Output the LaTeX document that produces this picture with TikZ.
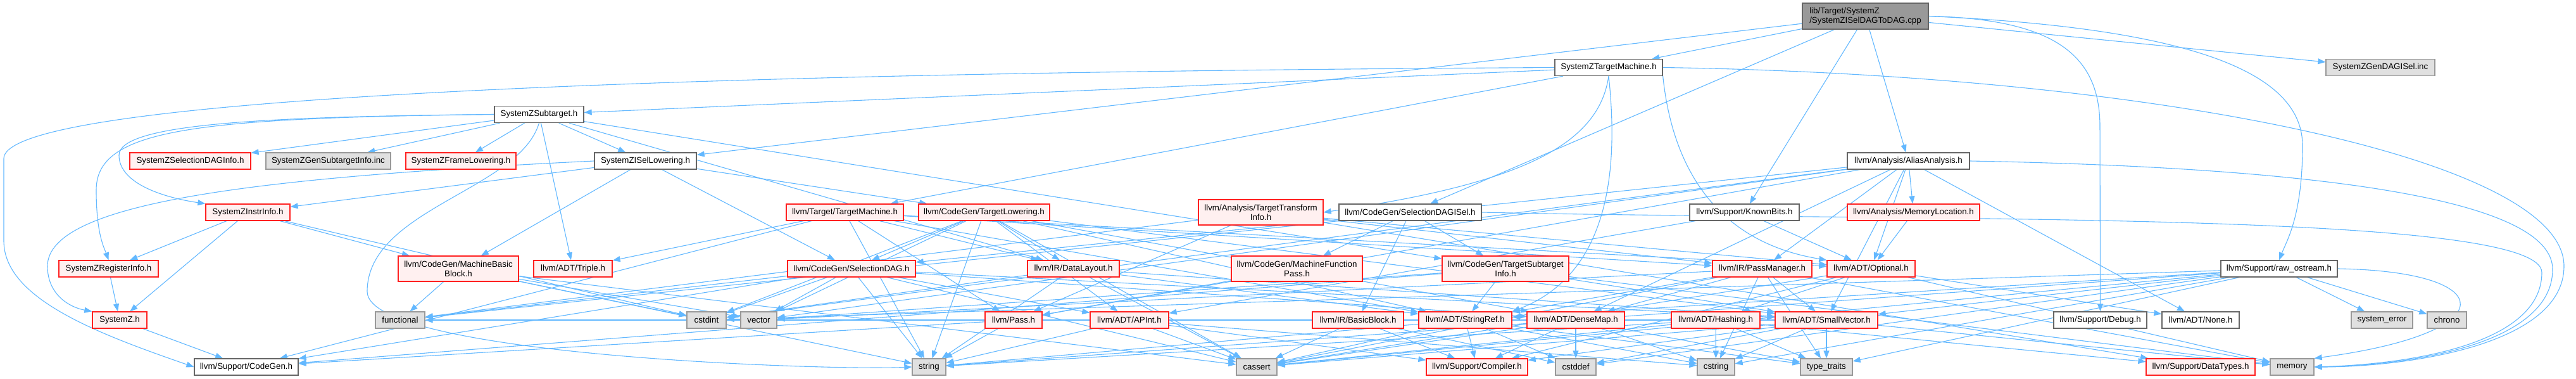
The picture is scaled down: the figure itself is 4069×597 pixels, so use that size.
\documentclass[tikz,border=0pt]{standalone}
\usepackage{fontspec}
\setmainfont{Liberation Sans}
\usetikzlibrary{arrows.meta}
\pgfdeclarelayer{background}
\pgfsetlayers{background,main}
\definecolor{edgec}{HTML}{63B8FF}
\definecolor{redfill}{HTML}{FFF0F0}
\definecolor{grayfill}{HTML}{E0E0E0}
\definecolor{grayline}{HTML}{999999}
\definecolor{darkline}{HTML}{666666}
\definecolor{redline}{HTML}{FF2020}
\definecolor{rootfill}{HTML}{999999}
\begin{document}
\begin{tikzpicture}[x=1pt,y=-1pt,font=\fontsize{13.35}{15.5}\selectfont,
  box/.style={draw, inner sep=0pt, minimum height=26pt, line width=1.3pt, align=center, text=black},
  rbox/.style={box, draw=redline, fill=redfill},
  wbox/.style={box, draw=darkline, fill=white},
  gbox/.style={box, draw=grayline, fill=grayfill},
  rootbox/.style={box, draw=darkline, fill=rootfill, align=left, minimum height=41pt},
  conn/.style={draw=edgec, line width=1.1pt, -{Triangle[length=12pt,width=9pt]}}]
\useasboundingbox (0,0) rectangle (4069,597);
% row 0
\node[rootbox, minimum width=199pt] (root) at (2946.5,25.5) {lib/Target/SystemZ\\/SystemZISelDAGToDAG.cpp};
% row 1
\node[wbox, minimum width=170pt] (ZTM) at (2541,106.5) {SystemZTargetMachine.h};
\node[gbox, minimum width=172pt] (GenDAG) at (3760,106.5) {SystemZGenDAGISel.inc};
% row 2
\node[wbox, minimum width=141pt] (Subtarget) at (851.5,180.5) {SystemZSubtarget.h};
% row 3
\node[rbox, minimum width=191pt] (SelDAGInfo) at (300.5,254) {SystemZSelectionDAGInfo.h};
\node[gbox, minimum width=197pt] (GenSubInfo) at (518.5,254) {SystemZGenSubtargetInfo.inc};
\node[rbox, minimum width=174pt] (FrameLow) at (728,254) {SystemZFrameLowering.h};
\node[wbox, minimum width=161pt] (ISelLow) at (1019.5,254) {SystemZISelLowering.h};
\node[wbox, minimum width=193pt] (AA) at (3014.5,254) {llvm/Analysis/AliasAnalysis.h};
% row 4
\node[rbox, minimum width=133pt] (InstrInfo) at (391.5,335) {SystemZInstrInfo.h};
\node[rbox, minimum width=185pt] (TM) at (1334.5,335) {llvm/Target/TargetMachine.h};
\node[rbox, minimum width=207pt] (TL) at (1554.5,335) {llvm/CodeGen/TargetLowering.h};
\node[rbox, minimum width=197pt, minimum height=40pt] (TTI) at (1991.5,335) {llvm/Analysis/TargetTransform\\Info.h};
\node[wbox, minimum width=225pt] (SDISel) at (2227.5,335) {llvm/CodeGen/SelectionDAGISel.h};
\node[wbox, minimum width=173pt] (KnownBits) at (2755.5,335) {llvm/Support/KnownBits.h};
\node[rbox, minimum width=209pt] (MemLoc) at (3022.5,335) {llvm/Analysis/MemoryLocation.h};
% row 5
\node[rbox, minimum width=157pt] (RegInfo) at (171.5,424) {SystemZRegisterInfo.h};
\node[rbox, minimum width=190pt, minimum height=40pt] (MBB) at (724,424) {llvm/CodeGen/MachineBasic\\Block.h};
\node[rbox, minimum width=124pt] (Triple) at (905,424) {llvm/ADT/Triple.h};
\node[rbox, minimum width=202pt] (SelDAG) at (1345,424) {llvm/CodeGen/SelectionDAG.h};
\node[rbox, minimum width=145pt] (DataLayout) at (1695.5,424) {llvm/IR/DataLayout.h};
\node[rbox, minimum width=207pt, minimum height=40pt] (MFP) at (2048.5,424) {llvm/CodeGen/MachineFunction\\Pass.h};
\node[rbox, minimum width=200pt, minimum height=40pt] (TSI) at (2378,424) {llvm/CodeGen/TargetSubtarget\\Info.h};
\node[rbox, minimum width=157pt] (PM) at (2783.5,424) {llvm/IR/PassManager.h};
\node[rbox, minimum width=139pt] (Optional) at (2955.5,424) {llvm/ADT/Optional.h};
\node[wbox, minimum width=184pt] (rawos) at (3600,424) {llvm/Support/raw\_ostream.h};
% row 6
\node[rbox, minimum width=86pt] (SystemZh) at (189,505) {SystemZ.h};
\node[gbox, minimum width=78pt] (functional) at (632,505) {functional};
\node[gbox, minimum width=62pt] (cstdint) at (1116,505) {cstdint};
\node[gbox, minimum width=57pt] (vector) at (1198.5,505) {vector};
\node[rbox, minimum width=90pt] (Pass) at (1601,505) {llvm/Pass.h};
\node[rbox, minimum width=124pt] (APInt) at (1784,505) {llvm/ADT/APInt.h};
\node[rbox, minimum width=144pt] (BB) at (2145,505) {llvm/IR/BasicBlock.h};
\node[rbox, minimum width=147pt] (StringRef) at (2314.5,505) {llvm/ADT/StringRef.h};
\node[rbox, minimum width=154pt] (DenseMap) at (2489,505) {llvm/ADT/DenseMap.h};
\node[rbox, minimum width=140pt] (Hashing) at (2710,505) {llvm/ADT/Hashing.h};
\node[rbox, minimum width=162pt] (SmallVector) at (2885,505) {llvm/ADT/SmallVector.h};
\node[wbox, minimum width=147pt] (Debug) at (3317.5,505) {llvm/Support/Debug.h};
\node[wbox, minimum width=122pt] (None) at (3476,505) {llvm/ADT/None.h};
\node[gbox, minimum width=97pt] (syserr) at (3762.5,505) {system\_error};
\node[gbox, minimum width=62pt] (chrono) at (3865,505) {chrono};
% row 7
\node[wbox, minimum width=164pt] (CodeGen) at (389,579) {llvm/Support/CodeGen.h};
\node[gbox, minimum width=53pt] (string) at (1467.5,579) {string};
\node[gbox, minimum width=64pt] (cassert) at (1985,579) {cassert};
\node[rbox, minimum width=160pt] (Compiler) at (2333,579) {llvm/Support/Compiler.h};
\node[gbox, minimum width=64pt] (cstddef) at (2489,579) {cstddef};
\node[gbox, minimum width=59pt] (cstring) at (2710.5,579) {cstring};
\node[gbox, minimum width=82pt] (typetraits) at (2885,579) {type\_traits};
\node[rbox, minimum width=172pt] (DataTypes) at (3476,579) {llvm/Support/DataTypes.h};
\node[gbox, minimum width=69pt] (memory) at (3620.5,579) {memory};

\begin{pgfonlayer}{background}
\foreach \a/\b in {root/ZTM, root/GenDAG, root/AA, root/ISelLow, root/SDISel, root/KnownBits,
  ZTM/Subtarget, ZTM/TM,
  Subtarget/SelDAGInfo, Subtarget/GenSubInfo, Subtarget/FrameLow, Subtarget/ISelLow, Subtarget/Triple, Subtarget/DataLayout, Subtarget/TSI,
  ISelLow/InstrInfo, ISelLow/MBB, ISelLow/SelDAG, ISelLow/TL,
  InstrInfo/RegInfo, InstrInfo/SystemZh, InstrInfo/cstdint, InstrInfo/MBB,
  RegInfo/SystemZh, SystemZh/CodeGen,
  MBB/functional, MBB/cstdint, MBB/vector, MBB/string, MBB/cassert,
  TM/Triple, TM/DataLayout, TM/PM, TM/Optional, TM/StringRef, TM/CodeGen, TM/string, TM/Pass,
  TL/SelDAG, TL/DataLayout, TL/APInt, TL/cstdint, TL/vector, TL/string, TL/cassert, TL/DenseMap, TL/SmallVector, TL/StringRef,
  SelDAG/functional, SelDAG/cstdint, SelDAG/vector, SelDAG/CodeGen, SelDAG/cassert, SelDAG/string, SelDAG/APInt, SelDAG/DenseMap, SelDAG/SmallVector,
  DataLayout/cstdint, DataLayout/string, DataLayout/cassert, DataLayout/SmallVector, DataLayout/StringRef,
  Pass/string, Pass/CodeGen,
  APInt/string, APInt/cassert, APInt/Compiler, APInt/cstring,
  TTI/Pass, TTI/functional, TTI/PM, TTI/Optional, TTI/DataTypes,
  MFP/Pass,
  SDISel/SelDAG, SDISel/MFP, SDISel/BB, SDISel/TSI,
  TSI/StringRef, TSI/vector, TSI/CodeGen, TSI/SmallVector, TSI/memory,
  BB/Compiler, BB/cassert, BB/cstddef,
  StringRef/string, StringRef/Compiler, StringRef/cstddef, StringRef/cstring, StringRef/typetraits, StringRef/cassert,
  DenseMap/Compiler, DenseMap/cstddef, DenseMap/cstring, DenseMap/typetraits, DenseMap/cassert,
  Hashing/cstring, Hashing/cassert, Hashing/string, Hashing/DataTypes, Hashing/typetraits,
  SmallVector/typetraits, SmallVector/cstring, SmallVector/Compiler, SmallVector/cstddef, SmallVector/cassert, SmallVector/functional, SmallVector/memory,
  PM/SmallVector, PM/StringRef, PM/DenseMap, PM/typetraits, PM/cassert, PM/cstring, PM/memory, PM/vector,
  Optional/Hashing, Optional/None, Optional/Compiler, Optional/cassert, Optional/memory,
  KnownBits/Optional, KnownBits/APInt, MemLoc/Optional,
  AA/PM, AA/MemLoc, AA/Optional, AA/SmallVector, AA/None, AA/DenseMap, AA/Pass, AA/cstdint, AA/functional, AA/vector,
  rawos/SmallVector, rawos/StringRef, rawos/cassert, rawos/cstddef, rawos/cstdint, rawos/cstring, rawos/string, rawos/syserr, rawos/chrono, rawos/typetraits}
  \draw[conn] (\a) -- (\b);
% curved connectors
\draw[conn] (root.east) .. controls (3250,30) and (3317,90) .. (3317,200) -- (Debug.north);
\draw[conn] (root.east) .. controls (3480,45) and (3637,120) .. (3637,230) .. controls (3637,340) and (3612,380) .. (rawos.north);
\draw[conn] (ZTM.west) .. controls (1500,112) and (8,135) .. (6,250) -- (6,380) .. controls (6,470) and (150,525) .. (CodeGen.west);
\draw[conn] (ZTM.east) .. controls (3400,118) and (4050,250) .. (4050,420) .. controls (4050,545) and (3800,579) .. (memory.east);
\draw[conn] (SDISel.east) .. controls (3000,350) and (4015,330) .. (4015,430) .. controls (4015,545) and (3800,575) .. (memory.east);
\draw[conn] (AA.east) .. controls (3700,265) and (4032,320) .. (4032,425) .. controls (4032,545) and (3800,577) .. (memory.east);
\draw[conn] (rawos.east) .. controls (3950,428) and (3960,525) .. (memory.north east);
\draw[conn] (ZTM.south) .. controls (2525,230) and (2400,290) .. (TTI.east);
\draw[conn] (ZTM.south) .. controls (2555,250) and (2550,430) .. (StringRef.north east);
\draw[conn] (ZTM.south east) .. controls (2640,250) and (2700,380) .. (Optional.north west);
\draw[conn] (Subtarget.west) .. controls (420,184) and (188,195) .. (188,245) .. controls (188,290) and (260,312) .. (InstrInfo.north west);
\draw[conn] (Subtarget.west) .. controls (300,186) and (152,205) .. (152,300) .. controls (152,370) and (165,392) .. (RegInfo.north);
\draw[conn] (ISelLow.west) .. controls (400,280) and (75,320) .. (75,420) .. controls (75,465) and (110,485) .. (SystemZh.north west);
\draw[conn] (Subtarget.south) .. controls (820,300) and (580,330) .. (580,460) .. controls (580,560) and (1300,585) .. (string.west);
\end{pgfonlayer}
\end{tikzpicture}
\end{document}
